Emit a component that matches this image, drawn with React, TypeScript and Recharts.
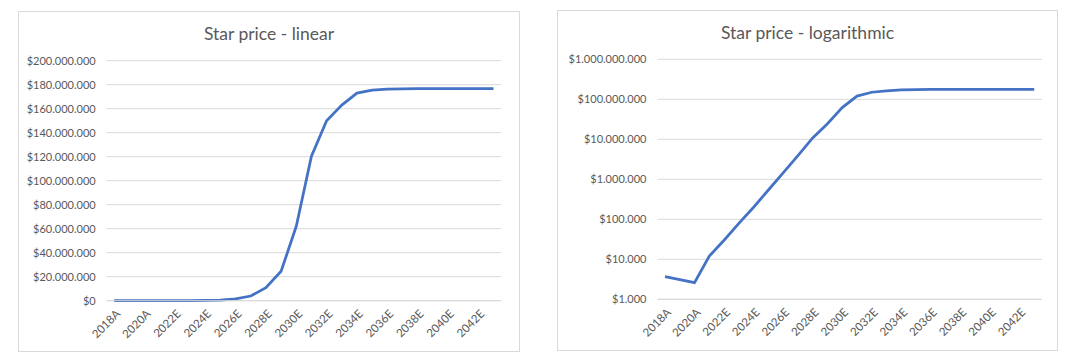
import React from "react";
import { LineChart, Line, XAxis, YAxis, CartesianGrid } from "recharts";

const years = [
  "2018A", "2019A", "2020A", "2021E", "2022E", "2023E", "2024E", "2025E", "2026E",
  "2027E", "2028E", "2029E", "2030E", "2031E", "2032E", "2033E", "2034E", "2035E",
  "2036E", "2037E", "2038E", "2039E", "2040E", "2041E", "2042E", "2043E",
];

// star price in $
const starPrice = [
  3700, 3100, 2600, 12000, 30000, 79000, 200000, 540000, 1450000,
  3900000, 10800000, 24500000, 62000000, 120500000, 150000000, 163000000, 173000000, 175500000,
  176300000, 176600000, 176700000, 176700000, 176700000, 176700000, 176700000, 176700000,
];

const linearTicks = [0, 20e6, 40e6, 60e6, 80e6, 100e6, 120e6, 140e6, 160e6, 180e6, 200e6];
const logTicks = [1e3, 1e4, 1e5, 1e6, 1e7, 1e8, 1e9];

const data = years.map((year, i) => ({ year, price: starPrice[i] }));

const FONT = "Lato, 'Open Sans', sans-serif";
const TEXT = "#595959";
const GRID = "#d9d9d9";
const BLUE = "#4472C4";

const dollars = (v: number) => "$" + String(Math.round(v)).replace(/\B(?=(\d{3})+(?!\d))/g, ".");

function YearTick({ x, y, payload }: any) {
  const tx = x + 4;
  const ty = y + 9;
  return (
    <text
      x={tx}
      y={ty}
      dy="0.35em"
      transform={`rotate(-45 ${tx} ${ty})`}
      textAnchor="end"
      fill={TEXT}
      fontSize={11.5}
      fontFamily={FONT}
    >
      {payload.value}
    </text>
  );
}

function Panel({
  title, left, top, width, height, log, axisWidth, marginTop, marginRight,
}: {
  title: string; left: number; top: number; width: number; height: number;
  log?: boolean; axisWidth: number; marginTop: number; marginRight: number;
}) {
  const inner = { w: width - 2, h: height - 2 };
  const xAxisHeight = inner.h - marginTop - 240;
  return (
    <div
      style={{
        position: "absolute", left, top, width, height, boxSizing: "border-box",
        border: `1px solid ${GRID}`, background: "#fff",
      }}
    >
      <div
        style={{
          position: "absolute", left: 0, top: 11, width: inner.w, textAlign: "center",
          fontFamily: FONT, fontSize: 17.5, color: TEXT, lineHeight: "22px",
        }}
      >
        {title}
      </div>
      <LineChart
        width={inner.w}
        height={inner.h}
        data={data}
        margin={{ top: marginTop, right: marginRight, bottom: 0, left: 0 }}
      >
        <CartesianGrid vertical={false} stroke={GRID} strokeWidth={1} />
        <XAxis
          dataKey="year"
          interval={1}
          height={xAxisHeight}
          tickLine={false}
          tickSize={0}
          axisLine={{ stroke: GRID }}
          padding={{ left: 7.5, right: 7.5 }}
          tick={<YearTick />}
        />
        {log ? (
          <YAxis
            scale="log"
            domain={[1e3, 1e9]}
            ticks={logTicks}
            allowDataOverflow
            width={axisWidth}
            axisLine={false}
            tickLine={false}
            tickSize={0}
            tickMargin={11}
            tickFormatter={dollars}
            tick={{ fill: TEXT, fontSize: 11, fontFamily: FONT }}
          />
        ) : (
          <YAxis
            domain={[0, 200e6]}
            ticks={linearTicks}
            width={axisWidth}
            axisLine={false}
            tickLine={false}
            tickSize={0}
            tickMargin={11}
            tickFormatter={dollars}
            tick={{ fill: TEXT, fontSize: 11, fontFamily: FONT }}
          />
        )}
        <Line
          type="linear"
          dataKey="price"
          stroke={BLUE}
          strokeWidth={2.75}
          dot={false}
          isAnimationActive={false}
        />
      </LineChart>
    </div>
  );
}

export default function App() {
  return (
    <div style={{ position: "absolute", left: 0, top: 0, width: 1074, height: 364, background: "#fff" }}>
      <Panel
        title="Star price - linear"
        left={18} top={11} width={502} height={341}
        axisWidth={87.7} marginTop={48.7} marginRight={18}
      />
      <Panel
        title="Star price - logarithmic"
        log
        left={557} top={10} width={501} height={341}
        axisWidth={99.5} marginTop={48.3} marginRight={15.3}
      />
    </div>
  );
}
